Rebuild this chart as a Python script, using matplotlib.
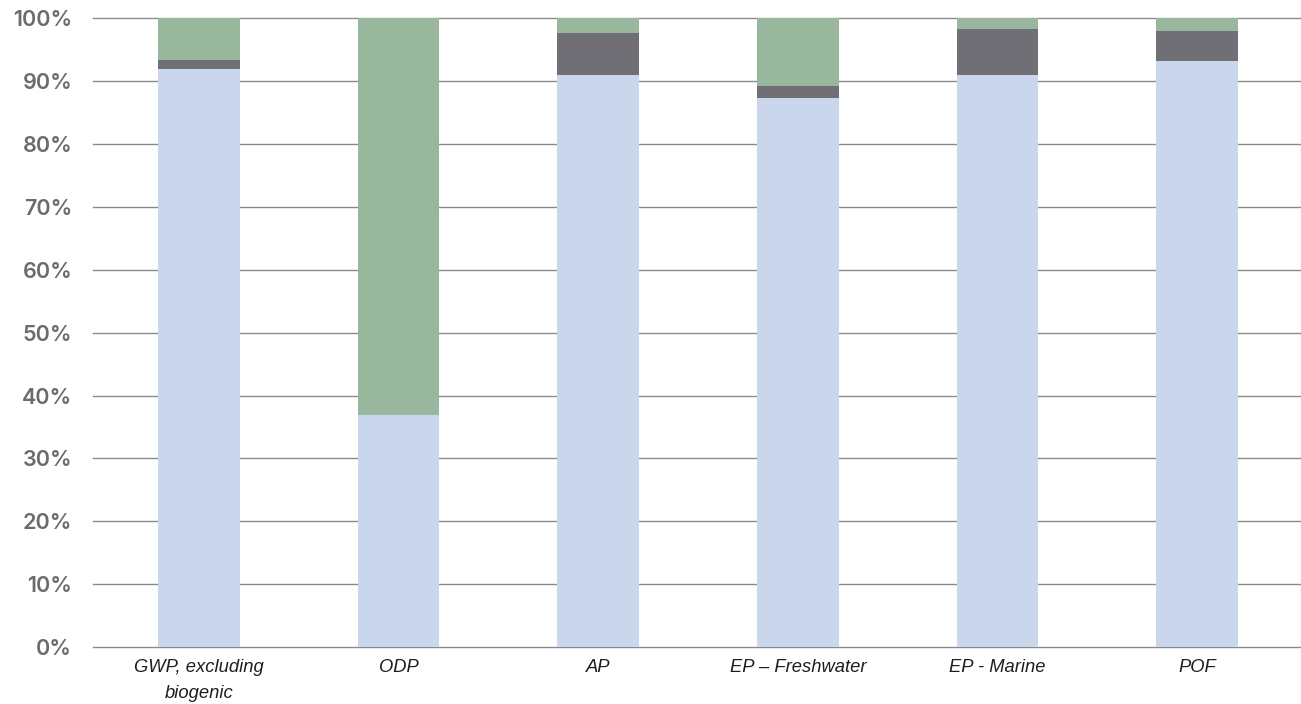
import numpy as np
import matplotlib.pyplot as plt
from matplotlib.ticker import PercentFormatter

categories = ["GWP, excluding\nbiogenic", "ODP", "AP", "EP – Freshwater", "EP - Marine", "POF"]
# share of each impact category (%), bottom to top
part_a = [92.0, 36.9, 91.0, 87.4, 91.0, 93.2]
part_b = [1.4, 0.0, 6.7, 1.9, 7.3, 4.8]
part_c = [100 - a - b for a, b in zip(part_a, part_b)]

colors = ["#c9d6ec", "#706f75", "#99b79d"]

fig = plt.figure(figsize=(13.01, 7.04), dpi=100)
ax = fig.add_axes([0.0715, 0.081, 0.9285, 0.893])

x = np.arange(len(categories))
width = 0.41
ax.bar(x, part_a, width, color=colors[0], zorder=3)
ax.bar(x, part_b, width, bottom=part_a, color=colors[1], zorder=3)
ax.bar(x, part_c, width, bottom=np.add(part_a, part_b), color=colors[2], zorder=3)

ax.set_ylim(0, 100)
ax.set_xlim(-0.53, 5.52)
ax.set_yticks(np.arange(0, 101, 10))
ax.yaxis.set_major_formatter(PercentFormatter(decimals=0))
ax.grid(axis="y", color="#8a8a8a", linewidth=1.0, zorder=0)
for gl in ax.get_ygridlines():
    gl.set_clip_on(False)
ax.set_axisbelow(True)
for s in ax.spines.values():
    s.set_visible(False)
ax.tick_params(length=0)
ax.tick_params(axis="y", pad=15, labelcolor="#6b6b6b")
for lab in ax.get_yticklabels():
    lab.set_fontfamily("Inter")
    lab.set_fontweight("semibold")
    lab.set_fontsize(15.5)
ax.set_xticks(x)
ax.set_xticklabels(categories, fontsize=13.2, family="Liberation Sans", style="italic",
                   color="#1e1e1e", linespacing=1.65)
ax.tick_params(axis="x", pad=9)

fig.savefig("out.png", dpi=100)
